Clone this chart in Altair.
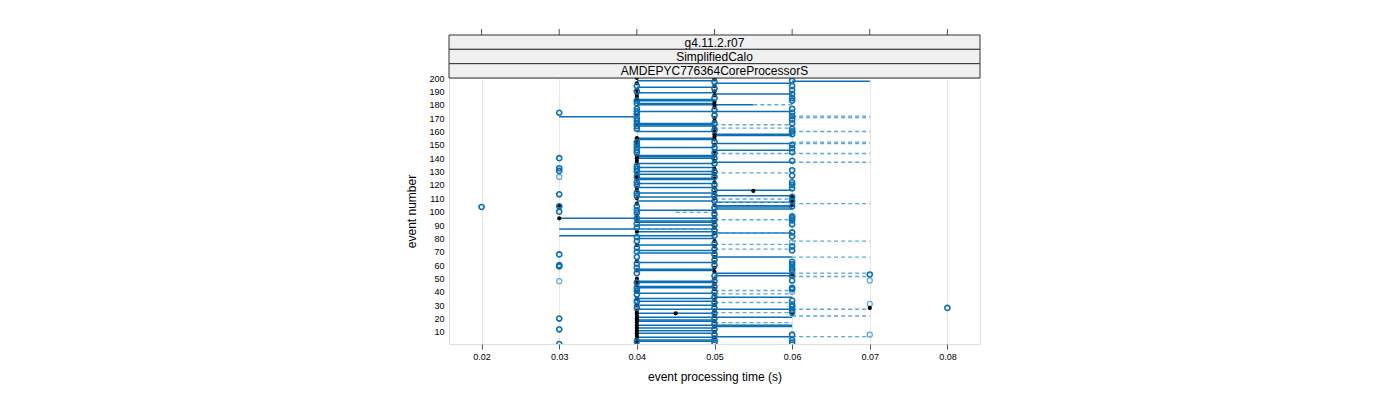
import altair as alt
import pandas as pd

# ---------------- data ----------------
x_ticks = [0.02, 0.03, 0.04, 0.05, 0.06, 0.07, 0.08]
y_ticks = list(range(10, 201, 10))
strip_labels = ["g4.11.2.r07", "SimplifiedCalo", "AMDEPYC776364CoreProcessorS"]

# solid (dark blue) horizontal segments: event numbers, grouped by start/end time
solid_040_050 = [198, 193, 189, 184, 183, 181, 175, 166, 165, 164, 160, 155, 154, 148, 142,
                 141, 140, 136, 133, 130, 128, 125, 124, 121, 118, 114, 111, 108, 101, 93,
                 92, 90, 85, 80, 75, 71, 69, 62, 57, 56, 48, 47, 44, 43, 39, 35, 33, 30, 27,
                 24, 21, 19, 18, 15, 13, 11, 9, 6, 4, 3]
solid_050_060 = [196, 188, 175, 158, 157, 151, 146, 137, 116, 112, 107, 104.5, 103.5, 102,
                 84, 66, 54, 52, 36, 27, 21, 15, 14, 6.5]
solid_060_070 = [197.5]
solid_030_040 = [171]
solid_030_050 = [95, 87, 82]
solid_040_055 = [180]

# dashed (light blue) horizontal segments
dashed_060_070 = [171.5, 170.5, 160, 152, 151, 143.5, 137, 106, 78, 66, 54, 51.5, 27, 22, 6.5]
dashed_050_060 = [165, 162.5, 143.5, 129, 109.5, 107, 94, 84, 75.5, 72, 41, 38.5, 32, 24.5,
                  17, 15.5]
dashed_055_060 = [180]
dashed_045_050 = [99.5]
dashed_040_050 = [87]

# dark blue open circles, grouped by time value
circ_020 = [103.5]
circ_030 = [174, 140, 132.5, 130.5, 113, 104, 100, 68, 60, 59, 20, 12, 1]
circ_040 = [194, 190, 183, 181, 177, 175, 173, 170, 168, 166, 164, 162, 152, 150, 148, 146,
            144, 134, 132, 130, 126, 122, 120, 114, 112, 104, 101, 99, 95, 91, 88, 81, 78,
            73, 70, 66, 61, 58, 54, 47, 43, 41, 38, 33, 28, 3]
circ_050 = [197, 192, 185, 176, 172, 166, 161, 152, 148, 144, 140, 136, 130, 126, 120, 116,
            112, 108, 103, 98, 94, 90, 86, 82, 76, 72, 68, 64, 60, 52, 48, 44, 40, 36, 32,
            28, 24, 20, 16, 12, 8, 4, 2]
circ_060 = [198, 194, 191, 188, 185, 183, 177, 174, 171.5, 169, 166, 162, 160, 158, 150,
            147.5, 144.5, 138, 131, 127, 122, 120, 117.5, 111, 108, 104, 96.5, 95, 93.5,
            90.5, 84.5, 81.5, 74, 71, 62.5, 60.5, 58, 56, 52, 48.5, 43, 42, 33.5, 30.5, 29,
            26.5, 24.5, 8, 4, 2]
circ_070 = [53]
circ_080 = [28]

# light blue open circles
light_030 = [126, 48]
light_040 = [32, 30]
light_060 = [96, 77, 57, 40, 29]
light_070 = [48.5, 31, 8]

# black filled dots
black_030 = [104.5, 95]
black_040 = [200, 196, 191, 188, 186, 184, 172, 165, 155, 153, 150, 142, 140, 138, 136, 128,
             126, 124, 118, 116, 110, 106, 97, 93, 85, 75, 63, 56, 50, 48, 45, 40, 35, 30,
             26, 24, 22, 20, 19, 17, 15, 13, 11, 9, 7, 5, 2]
black_045 = [24]
black_050 = [199, 194, 190, 187, 182, 180, 178, 170, 168, 163, 160, 158, 156, 154, 150, 145,
             142, 138, 132, 128, 125, 122, 118, 114, 110, 105, 100, 96, 92, 88, 84, 78, 74,
             70, 66, 62, 58, 55, 50, 46, 42, 38, 34, 30, 26, 22, 18, 14, 10, 6]
black_055 = [115.5]
black_060 = [111, 108, 105, 53, 23.5]
black_070 = [28]

# ---------------- tables ----------------
seg_groups = [
    (solid_040_050, 0.04, 0.05, "solid"), (solid_050_060, 0.05, 0.06, "solid"),
    (solid_060_070, 0.06, 0.07, "solid"), (solid_030_040, 0.03, 0.04, "solid"),
    (solid_030_050, 0.03, 0.05, "solid"), (solid_040_055, 0.04, 0.055, "solid"),
    (dashed_060_070, 0.06, 0.07, "dashed"), (dashed_050_060, 0.05, 0.06, "dashed"),
    (dashed_055_060, 0.055, 0.06, "dashed"), (dashed_045_050, 0.045, 0.05, "dashed"),
    (dashed_040_050, 0.04, 0.05, "dashed"),
]
seg_rows = []
for ys, a, b, style in seg_groups:
    for y in ys:
        seg_rows.append({"event": y, "t1": a, "t2": b, "style": style})
seg_df = pd.DataFrame(seg_rows)

pt_groups = [
    (circ_020, 0.02, "dark"), (circ_030, 0.03, "dark"), (circ_040, 0.04, "dark"),
    (circ_050, 0.05, "dark"), (circ_060, 0.06, "dark"), (circ_070, 0.07, "dark"),
    (circ_080, 0.08, "dark"),
    (light_030, 0.03, "light"), (light_040, 0.04, "light"), (light_060, 0.06, "light"),
    (light_070, 0.07, "light"),
    (black_030, 0.03, "black"), (black_040, 0.04, "black"), (black_045, 0.045, "black"),
    (black_050, 0.05, "black"), (black_055, 0.055, "black"), (black_060, 0.06, "black"),
    (black_070, 0.07, "black"),
]
pt_rows = []
for ys, t, kind in pt_groups:
    for y in ys:
        pt_rows.append({"event": y, "time": t, "kind": kind})
pt_df = pd.DataFrame(pt_rows)

DARK = "#0b6fb3"
LIGHT = "#5fa6da"
W, H = 531, 266

xscale = alt.Scale(domain=[0.0158, 0.0842], nice=False, zero=False)
yscale = alt.Scale(domain=[1, 200], nice=False, zero=False)

x_axis = alt.Axis(values=x_ticks, format=".2f", grid=True, gridColor="#e8e8e8",
                  gridWidth=1, tickSize=5, tickColor="#555", domain=False,
                  labelFontSize=9, labelPadding=3, labelColor="#000",
                  title="event processing time (s)", titleFontSize=12,
                  titleFontWeight="normal", titlePadding=10, titleColor="#000")
y_axis = alt.Axis(values=y_ticks, tickSize=0, grid=False, domain=False, labelFontSize=9,
                  labelPadding=5, labelColor="#000", title="event number",
                  titleFontSize=12, titleFontWeight="normal", titlePadding=10,
                  titleColor="#000")


def xenc(field):
    return alt.X(field, type="quantitative", scale=xscale, axis=x_axis)


def yenc(field):
    return alt.Y(field, type="quantitative", scale=yscale, axis=y_axis)


solid = alt.Chart(seg_df).transform_filter(alt.datum.style == "solid").mark_rule(
    color=DARK, strokeWidth=1.5, clip=True
).encode(x=xenc("t1"), x2="t2:Q", y=yenc("event"))

dashed = alt.Chart(seg_df).transform_filter(alt.datum.style == "dashed").mark_rule(
    color=LIGHT, strokeWidth=1.4, strokeDash=[4, 3], clip=True
).encode(x=xenc("t1"), x2="t2:Q", y=yenc("event"))

light_pts = alt.Chart(pt_df).transform_filter(alt.datum.kind == "light").mark_point(
    shape="circle", filled=False, color=LIGHT, strokeWidth=1.2, size=26, opacity=1, clip=True
).encode(x=xenc("time"), y=yenc("event"))

black_pts = alt.Chart(pt_df).transform_filter(alt.datum.kind == "black").mark_circle(
    color="#000", size=18, opacity=1, clip=True
).encode(x=xenc("time"), y=yenc("event"))

dark_pts = alt.Chart(pt_df).transform_filter(alt.datum.kind == "dark").mark_point(
    shape="circle", filled=False, color=DARK, strokeWidth=1.6, size=26, opacity=1, clip=True
).encode(x=xenc("time"), y=yenc("event"))

# top ticks (above the strips)
top_ticks = alt.Chart(pd.DataFrame({"tick": x_ticks})).mark_rule(
    color="#555", strokeWidth=1
).encode(x=xenc("tick"), y=alt.value(-49), y2=alt.value(-43))

# strips
strip_layers = []
strip_h = 43.0 / 3
for i, lab in enumerate(strip_labels):
    top = -43 + i * strip_h
    sdf = pd.DataFrame({"label": [lab]})
    strip_layers.append(
        alt.Chart(sdf).mark_rect(fill="#f0f0f0", stroke="#333", strokeWidth=1).encode(
            x=alt.value(0), x2=alt.value(W), y=alt.value(top), y2=alt.value(top + strip_h)
        )
    )
    strip_layers.append(
        alt.Chart(sdf).mark_text(fontSize=12, color="#000", baseline="middle",
                                 align="center").encode(
            text="label:N", x=alt.value(W / 2), y=alt.value(top + strip_h / 2 + 0.5)
        )
    )

chart = alt.layer(
    solid, dashed, light_pts, black_pts, dark_pts, top_ticks, *strip_layers
).properties(
    width=W, height=H,
    autosize=alt.AutoSizeParams(type="none"),
    padding={"left": 441, "top": 70, "right": 20, "bottom": 48},
).configure_view(
    stroke="#6e6e6e", strokeWidth=1.5
).configure(
    font="Liberation Sans"
)

chart.save("out.html", embed_options={"renderer": "svg", "actions": False})
